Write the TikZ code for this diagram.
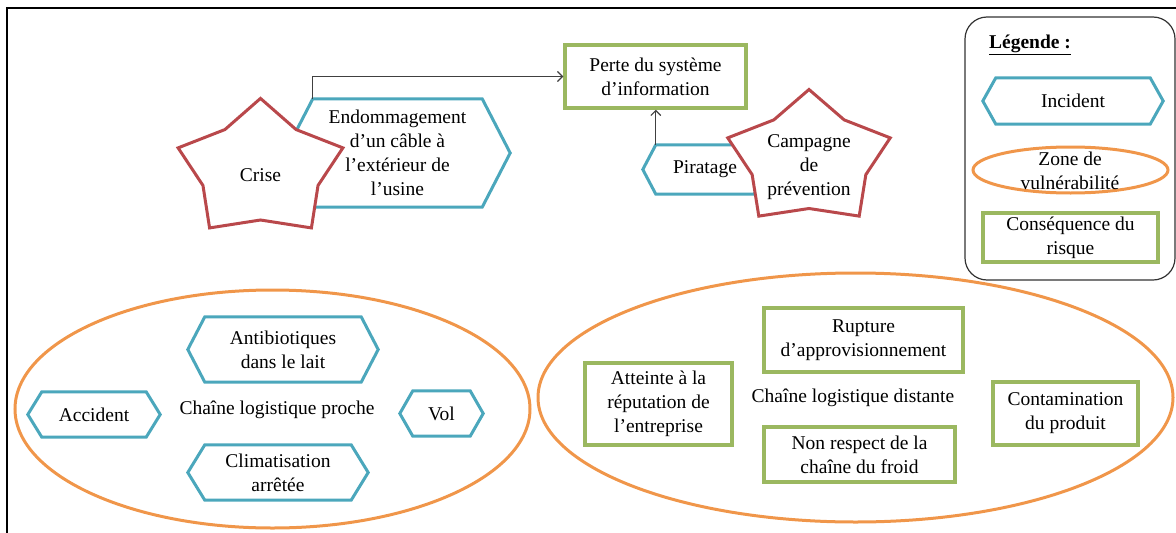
\documentclass[tikz,border=0pt]{standalone}
\usepackage{fontspec}
\setmainfont{Liberation Serif}
\usetikzlibrary{shapes.geometric,arrows.meta,calc}
\definecolor{incteal}{HTML}{4BA7BC}
\definecolor{crisered}{HTML}{B9484B}
\definecolor{zoneorange}{HTML}{F0964A}
\definecolor{consgreen}{HTML}{9BB860}
\definecolor{linegray}{HTML}{404040}
\pgfdeclarelayer{bg}
\pgfsetlayers{bg,main}
\newcommand\hexpath[2]{\draw[hexline] (#1.north west) -- (#1.north east) -- ([xshift=#2]#1.east) -- (#1.south east) -- (#1.south west) -- ([xshift=-#2]#1.west) -- cycle;}
\newcommand\starpath[4]{\draw[starline,shift={(#1)},xscale=#4] (270:#2) -- (306:#3) -- (342:#2) -- (18:#3) -- (54:#2) -- (90:#3) -- (126:#2) -- (162:#3) -- (198:#2) -- (234:#3) -- cycle;}
\tikzset{
  txt/.style={font=\fontsize{19.5}{24}\selectfont, align=center, inner sep=0pt, text=black},
  hexline/.style={draw=incteal, line width=3pt, fill=white, line join=miter},
  starline/.style={draw=crisered, line width=3pt, fill=white, line join=miter},
  zone/.style={ellipse, draw=zoneorange, line width=3pt, inner sep=0pt},
  cons/.style={txt, rectangle, draw=consgreen, line width=3.5pt, fill=white},
  arr/.style={draw=linegray, line width=1.1pt, -{Straight Barb[length=5pt,width=10pt]}},
  frameline/.style={draw=black, line width=2.5pt},
  legendbox/.style={draw=black!80, line width=1.2pt, rounded corners=22pt, inner sep=0pt}
}
\begin{document}
\begin{tikzpicture}[x=1pt,y=-1pt]
\useasboundingbox (0,0) rectangle (1176,533);
\draw[frameline] (7,533) -- (7,8) -- (1176,8);

% ---------- text / box nodes ----------
\node[txt, minimum width=169pt, minimum height=108pt] (endo) at (397.5,153) {Endommagement\\d’un câble à\\l’extérieur de\\l’usine};
\node[txt] (crise) at (260.5,175) {Crise};
\node[cons, minimum width=181pt, minimum height=63pt] (perte) at (655.5,76.5) {Perte du système\\d’information};
\node[txt, minimum width=98pt, minimum height=49pt] (pir) at (705,169.5) {Piratage};
\node[txt] (camp) at (809,167.5) {Campagne\\de\\prévention};

\node[txt, minimum width=156pt, minimum height=65pt] (anti) at (283,349.5) {Antibiotiques\\dans le lait};
\node[txt, minimum width=104pt, minimum height=45pt] (acc) at (94,414.5) {Accident};
\node[txt] (proche) at (277,410) {Chaîne logistique proche};
\node[txt, minimum width=57pt, minimum height=45pt] (vol) at (441.5,413.5) {Vol};
\node[txt, minimum width=146pt, minimum height=55pt] (clim) at (278,472.5) {Climatisation\\arrêtée};

\node[cons, minimum width=199pt, minimum height=64pt] (rupt) at (863.5,340) {Rupture\\d’approvisionnement};
\node[cons, minimum width=147pt, minimum height=82pt] (att) at (658.5,404) {Atteinte à la\\réputation de\\l’entreprise};
\node[txt] (distante) at (853,398) {Chaîne logistique distante};
\node[cons, minimum width=191pt, minimum height=55pt] (nonresp) at (859.5,454.5) {Non respect de la\\chaîne du froid};
\node[cons, minimum width=145pt, minimum height=63pt] (conta) at (1065.5,413.5) {Contamination\\du produit};

\node[txt] (legtitle) at (1030,45) {\underline{\textbf{Légende :}}};
\node[txt, minimum width=154pt, minimum height=46pt] (leginc) at (1073,101) {Incident};
\node[txt] (legzone) at (1070,171) {Zone de\\vulnérabilité};
\node[cons, minimum width=175pt, minimum height=49pt] (legcons) at (1070.5,237.5) {Conséquence du\\risque};

% ---------- shapes behind the texts ----------
\begin{pgfonlayer}{bg}
\node[zone, minimum width=515pt, minimum height=238pt] (near) at (272.5,409) {};
\node[zone, minimum width=635pt, minimum height=249pt] (far) at (855.5,397.5) {};
\node[legendbox, minimum width=210pt, minimum height=263pt] (legend) at (1070,148.5) {};
\node[zone, minimum width=195pt, minimum height=46pt] (legzoneshape) at (1070.5,170) {};
\hexpath{endo}{28pt}
\hexpath{pir}{13pt}
\hexpath{anti}{17pt}
\hexpath{acc}{14pt}
\hexpath{vol}{13pt}
\hexpath{clim}{17pt}
\hexpath{leginc}{13pt}
\starpath{[yshift=5pt]crise.center}{71.6}{50}{1.21}
\starpath{[yshift=8pt]camp.center}{70}{49}{1.22}
\end{pgfonlayer}

% ---------- connectors ----------
\draw[arr] (endo.north west) |- (perte.west);
\draw[arr] (pir.north west) -- (pir.north west |- perte.south);
\end{tikzpicture}
\end{document}
